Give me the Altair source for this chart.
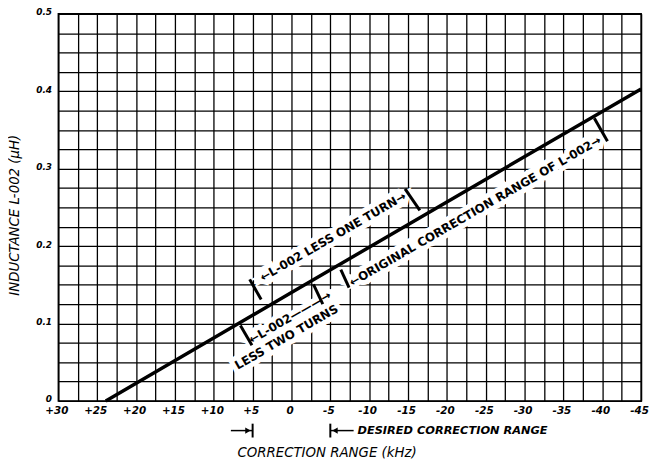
import altair as alt
import pandas as pd

# ---- data ----
freq_khz = [23.9, 0.0, -20.0, -45.0]
inductance_uh = [0.0, 0.140, 0.257, 0.403]

x_ticks = [30 - 2.5 * i for i in range(31)]
y_ticks = [round(0.025 * i, 3) for i in range(21)]

desired_range = [5, -5]

# range end bars (perpendicular to the curve), in data units
bar_x = [5.38, 6.57, -2.83, -6.35, -14.62, -38.98]
bar_y = [0.157, 0.0973, 0.1505, 0.1696, 0.2739, 0.3652]
bar_x2 = [3.90, 5.09, -4.03, -7.41, -16.52, -40.67]
bar_y2 = [0.131, 0.0718, 0.125, 0.1463, 0.2462, 0.3355]

label_text = ["\u2190L-002 LESS ONE TURN\u2192",
              "\u2190L-002\u2014\u2014\u2014\u2192",
              "LESS TWO TURNS",
              "\u2190ORIGINAL CORRECTION RANGE OF L-002\u2192"]
label_x = [-5.34, 0.2, 0.64, -23.64]
label_y = [0.212, 0.108, 0.0825, 0.245]

FONT = "DejaVu Sans"

curve = pd.DataFrame({"f": freq_khz, "L": inductance_uh})
bars = pd.DataFrame({"x": bar_x, "y": bar_y, "x2": bar_x2, "y2": bar_y2})
labels = pd.DataFrame({"t": label_text, "x": label_x, "y": label_y})

xscale = alt.Scale(domain=[-45, 30], reverse=True, nice=False, zero=False)
yscale = alt.Scale(domain=[0, 0.5], nice=False, zero=False)

x_axis = alt.Axis(values=x_ticks, tickCount=100, grid=True, ticks=False, domain=False, title=None,
                  labelExpr="datum.value % 5 == 0 ? (datum.value > 0 ? '+' + datum.value : '' + datum.value) : ''",
                  labelOverlap=False, labelFlush=False, labelPadding=5, labelBound=False, labelOffset=-2,
                  labelFont=FONT, labelFontSize=10.5, labelFontStyle="italic", labelFontWeight="bold",
                  labelColor="black", gridColor="black", gridOpacity=1, gridWidth=1.3)
y_axis = alt.Axis(values=y_ticks, tickCount=100, grid=True, ticks=False, domain=False, title=None,
                  labelExpr="abs(datum.value*10 - round(datum.value*10)) < 0.001 ? format(datum.value, '.1~f') : ''",
                  labelOverlap=False, labelFlush=False, labelPadding=7, labelBound=False, labelOffset=-2,
                  labelFont=FONT, labelFontSize=9, labelFontStyle="italic", labelFontWeight="bold",
                  labelColor="black", gridColor="black", gridOpacity=1, gridWidth=1.3)

line = alt.Chart(curve).mark_line(color="black", strokeWidth=3.5).encode(
    x=alt.X("f:Q", scale=xscale, axis=x_axis),
    y=alt.Y("L:Q", scale=yscale, axis=y_axis),
)

def X(field):
    return alt.X(field, scale=xscale)

def Y(field):
    return alt.Y(field, scale=yscale)

halo = alt.Chart(labels).mark_text(font=FONT, fontSize=12, fontWeight="bold", angle=330,
                                   fill="white", stroke="white", strokeWidth=10,
                                   align="center", baseline="middle").encode(
    x=X("x:Q"), y=Y("y:Q"), text="t:N")

texts = alt.Chart(labels).mark_text(font=FONT, fontSize=12, fontWeight="bold", angle=330,
                                    color="black", align="center", baseline="middle").encode(
    x=X("x:Q"), y=Y("y:Q"), text="t:N")

bar_marks = alt.Chart(bars).mark_rule(color="black", strokeWidth=3).encode(
    x=X("x:Q"), y=Y("y:Q"), x2="x2:Q", y2="y2:Q")

# desired correction range markers below the axis
ends = pd.DataFrame({"x": desired_range})
end_bars = alt.Chart(ends).mark_rule(color="black", strokeWidth=2).encode(
    x=X("x:Q"), y=alt.value(415), y2=alt.value(429))
shafts = alt.Chart(pd.DataFrame({"a": [desired_range[0] + 2.8, desired_range[1] - 3.0],
                                 "b": desired_range})).mark_rule(color="black", strokeWidth=1.5).encode(
    x=X("a:Q"), x2="b:Q", y=alt.value(422))
heads = alt.Chart(pd.DataFrame({"x": [desired_range[0] + 0.6, desired_range[1] - 0.6],
                                "s": ["triangle-right", "triangle-left"]})).mark_point(
    filled=True, color="black", size=40, opacity=1).encode(
    x=X("x:Q"), y=alt.value(422),
    shape=alt.Shape("s:N", scale=None, legend=None))
desired_txt = alt.Chart(pd.DataFrame({"x": [desired_range[1] - 3.5], "t": ["DESIRED CORRECTION RANGE"]})).mark_text(
    font=FONT, fontSize=11.5, fontWeight="bold", fontStyle="italic", align="left", baseline="middle", color="black").encode(
    x=X("x:Q"), y=alt.value(422), text="t:N")

xtitle = alt.Chart(pd.DataFrame({"t": ["CORRECTION RANGE (kHz)"]})).mark_text(
    font=FONT, fontSize=13.5, fontStyle="italic", align="center", baseline="middle", color="black").encode(
    x=alt.value(272), y=alt.value(445), text="t:N")
ytitle = alt.Chart(pd.DataFrame({"t": ["INDUCTANCE L-002 (\u00b5H)"]})).mark_text(
    font=FONT, fontSize=13.5, fontStyle="italic", align="center", baseline="middle", color="black", angle=270).encode(
    x=alt.value(-44), y=alt.value(204), text="t:N")

chart = alt.layer(line, halo, bar_marks, texts, end_bars, shafts, heads, desired_txt, xtitle, ytitle).properties(
    width=590, height=392,
    autosize=alt.AutoSizeParams(type="none"),
    padding={"left": 51, "top": 3, "right": 10, "bottom": 62},
    background="white",
).configure_view(stroke="black", strokeWidth=1.6)

chart.save("out.html", embed_options={"renderer": "svg", "actions": False})
